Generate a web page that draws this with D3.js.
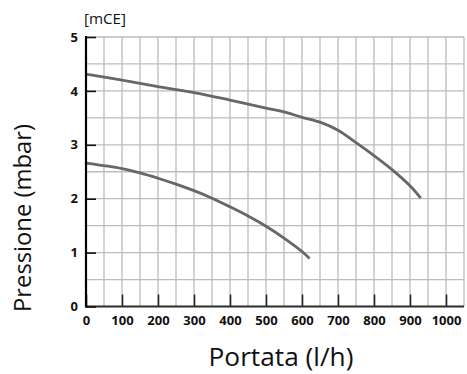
<!DOCTYPE html>
<html>
<head>
<meta charset="utf-8">
<script src="https://cdn.jsdelivr.net/npm/d3@7"></script>
<style>
  html, body { margin: 0; padding: 0; background: #fff; }
  svg { display: block; }
  text { font-family: "Open Sans", "DejaVu Sans", sans-serif; }
</style>
</head>
<body>
<svg id="chart" width="467" height="374"></svg>
<script>
// Data
const flowUpper = [0, 100, 200, 300, 400, 500, 550, 600, 650, 700, 750, 800, 850, 900, 930];
const pressUpper = [4.31, 4.20, 4.08, 3.97, 3.83, 3.68, 3.61, 3.51, 3.42, 3.27, 3.04, 2.80, 2.54, 2.24, 2.01];
const flowLower = [0, 100, 150, 200, 250, 300, 350, 400, 450, 500, 550, 600, 621];
const pressLower = [2.66, 2.56, 2.48, 2.38, 2.27, 2.15, 2.01, 1.85, 1.68, 1.49, 1.27, 1.02, 0.89];
const xTicks = [0, 100, 200, 300, 400, 500, 600, 700, 800, 900, 1000];
const yTicks = [0, 1, 2, 3, 4, 5];
const xGrid = d3.range(0, 1051, 50);
const yGrid = d3.range(0, 5.01, 0.5);
const xTitle = "Portata (l/h)";
const yTitle = "Pressione (mbar)";
const unitLabel = "[mCE]";

const svg = d3.select("#chart");
const mLeft = 86, mRight = 464, mTop = 37, mBottom = 306.5;
const x = d3.scaleLinear().domain([0, 1050]).range([mLeft, mRight]);
const y = d3.scaleLinear().domain([0, 5]).range([mBottom, mTop]);

function fitWidth(sel, target) {
  const fs = parseFloat(sel.attr("font-size"));
  const w = sel.node().getComputedTextLength();
  if (w > 0) sel.attr("font-size", (fs * target / w).toFixed(2));
}

// grid
svg.append("g").selectAll("line").data(xGrid).join("line")
  .attr("x1", d => x(d)).attr("x2", d => x(d))
  .attr("y1", y(5)).attr("y2", y(0))
  .attr("stroke", "#bcbcbc").attr("stroke-width", 1.3);
svg.append("g").selectAll("line").data(yGrid).join("line")
  .attr("x1", x(0)).attr("x2", x(1050))
  .attr("y1", d => y(d)).attr("y2", d => y(d))
  .attr("stroke", "#bcbcbc").attr("stroke-width", 1.3);

// curves
const line = d3.line().x(d => x(d[0])).y(d => y(d[1])).curve(d3.curveCatmullRom.alpha(0.5));
svg.append("path").datum(flowUpper.map((f, i) => [f, pressUpper[i]]))
  .attr("d", line).attr("fill", "none").attr("stroke", "#676767").attr("stroke-width", 2.8);
svg.append("path").datum(flowLower.map((f, i) => [f, pressLower[i]]))
  .attr("d", line).attr("fill", "none").attr("stroke", "#676767").attr("stroke-width", 2.8);

// x axis
const xAxis = d3.axisBottom(x).tickValues(xTicks).tickSize(-12).tickPadding(9.5).tickFormat(d3.format("d"));
const gx = svg.append("g").attr("transform", `translate(0,${mBottom})`).call(xAxis);
gx.select(".domain").remove();
gx.selectAll(".tick line").attr("stroke", "#222").attr("stroke-width", 1.6);
gx.selectAll(".tick text").attr("font-size", 13).attr("font-weight", "bold").attr("fill", "#111")
  .attr("font-family", '"Open Sans", sans-serif');
svg.append("line").attr("x1", x(0)).attr("x2", x(1050)).attr("y1", mBottom).attr("y2", mBottom)
  .attr("stroke", "#333").attr("stroke-width", 2.2);

// y axis
const yAxis = d3.axisLeft(y).tickValues(yTicks).tickSize(-10).tickPadding(8).tickFormat(d3.format("d"));
const gy = svg.append("g").attr("transform", `translate(${mLeft},0)`).call(yAxis);
gy.select(".domain").remove();
gy.selectAll(".tick line").attr("stroke", "#111").attr("stroke-width", 1.6);
gy.selectAll(".tick text").attr("font-size", 13).attr("font-weight", "bold").attr("fill", "#111")
  .attr("font-family", '"Open Sans", sans-serif');
svg.append("line").attr("x1", mLeft).attr("x2", mLeft).attr("y1", mTop - 1).attr("y2", mBottom + 1)
  .attr("stroke", "#000").attr("stroke-width", 2.2);

// labels
const uL = svg.append("text").attr("x", 84).attr("y", 24).attr("font-size", 12).attr("fill", "#111").text(unitLabel);
fitWidth(uL, 42);
const xT = svg.append("text").attr("x", 281).attr("y", 366).attr("text-anchor", "middle")
  .attr("font-size", 20).attr("fill", "#111").text(xTitle);
fitWidth(xT, 145);
const yT = svg.append("text").attr("transform", "translate(31,218) rotate(-90)").attr("text-anchor", "middle")
  .attr("font-size", 20).attr("fill", "#111").text(yTitle);
fitWidth(yT, 188);
</script>
</body>
</html>
